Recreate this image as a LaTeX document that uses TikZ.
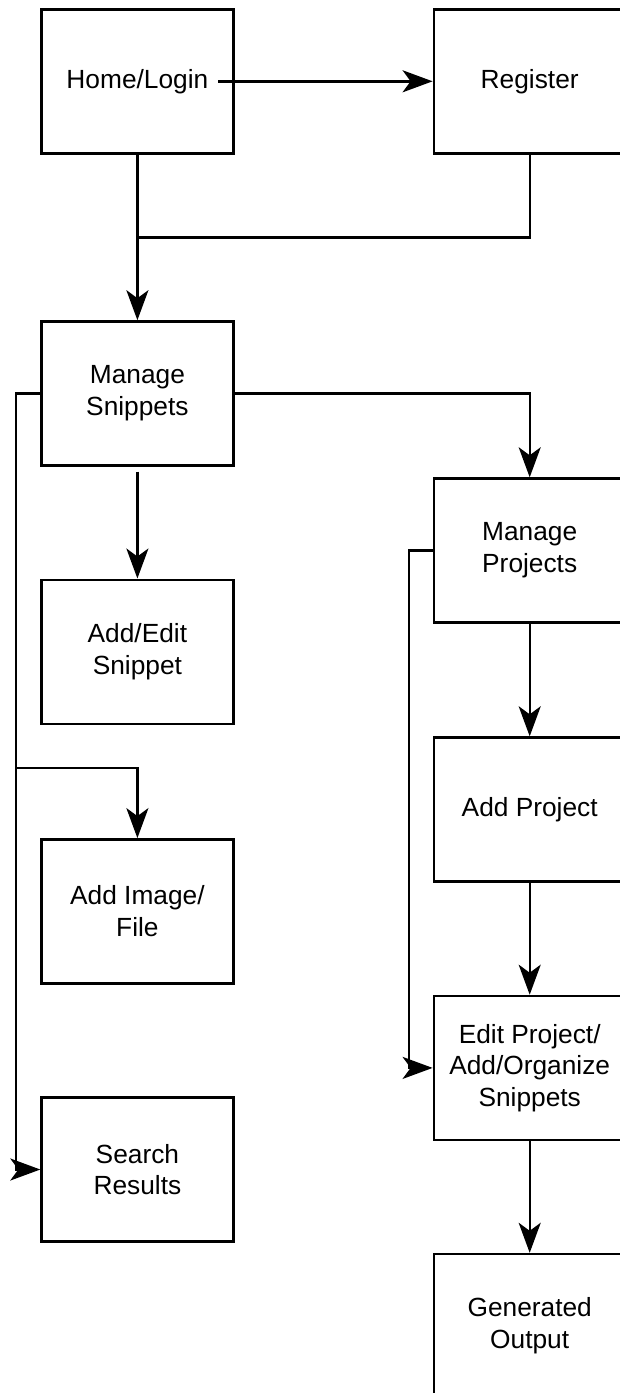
\documentclass[tikz,border=0pt]{standalone}
\usepackage{fontspec}
\setmainfont{Liberation Sans}
\usetikzlibrary{arrows.meta,calc}
\begin{document}
\begin{tikzpicture}[x=1pt,y=-1pt,
  box/.style={draw=black,line width=2.4pt,minimum width=191.8pt,minimum height=144pt,
    inner sep=0pt,align=center,font=\fontsize{26.3}{31.7}\selectfont},
  conn/.style={draw=black,line width=2.4pt},
  arr/.style={conn,-{Stealth[length=30pt,width=22pt,inset=8pt]}}]
\useasboundingbox (0,0) rectangle (620,1393);
\clip (0,0) rectangle (620,1393);
\node[box] (home) at (137.4,81.3) {Home/Login};
\node[box] (register) at (529.7,81.3) {Register};
\node[box] (snippets) at (137.4,393.4) {Manage\\Snippets};
\node[box] (addedit) at (137.4,651.7) {Add/Edit\\Snippet};
\node[box] (addimage) at (137.4,911.3) {Add Image/\\File};
\node[box] (search) at (137.4,1169.5) {Search\\Results};
\node[box] (projects) at (529.7,550.5) {Manage\\Projects};
\node[box] (addproject) at (529.7,809.5) {Add Project};
\node[box] (editproject) at (529.7,1067.9) {Edit Project/\\Add/Organize\\Snippets};
\node[box] (generated) at (529.7,1326) {Generated\\Output};
% connectors
\draw[arr] ([xshift=81pt]home.center) -- (register.west);
\draw[arr] (home.south) -- (snippets.north);
\draw[conn] (register.south) |- ($(home.south)+(0,83)$);
\draw[arr] (snippets.west) -- ++(-24.5,0) |- (search.west);
\coordinate (br) at ($(addimage.north)+(-120.4,-70)$);
\draw[arr] (br) -| (addimage.north);
\draw[arr] (snippets.east) -| (projects.north);
\draw[arr] ($(snippets.south)+(0,5)$) -- (addedit.north);
\draw[arr] (projects.west) -- ++(-23.8,0) |- (editproject.west);
\draw[arr] (projects.south) -- (addproject.north);
\draw[arr] (addproject.south) -- (editproject.north);
\draw[arr] (editproject.south) -- (generated.north);
\end{tikzpicture}
\end{document}
